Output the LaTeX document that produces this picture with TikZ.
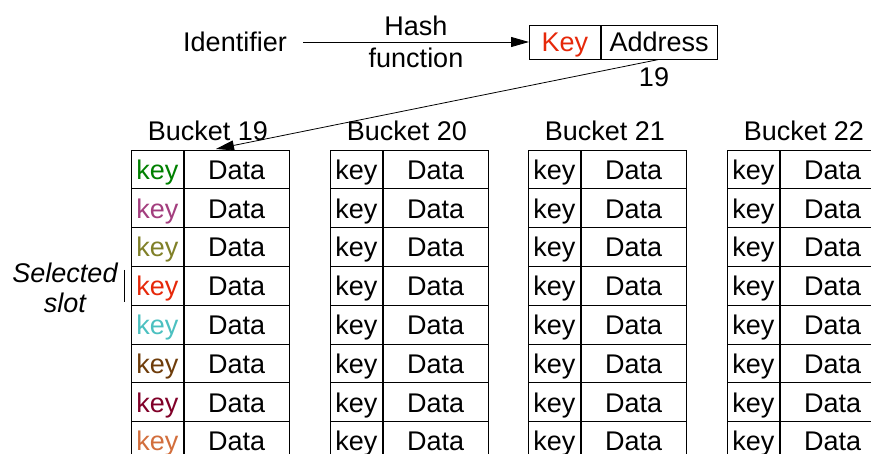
\documentclass[tikz,border=0pt]{standalone}
\usepackage{fontspec}
\setmainfont{Liberation Sans}
\usetikzlibrary{arrows.meta}
\definecolor{keygreen}{RGB}{0,128,0}
\definecolor{keymauve}{RGB}{163,62,126}
\definecolor{keyolive}{RGB}{128,128,40}
\definecolor{keyred}{RGB}{230,40,10}
\definecolor{keycyan}{RGB}{76,192,192}
\definecolor{keybrown}{RGB}{110,60,10}
\definecolor{keymaroon}{RGB}{128,0,40}
\definecolor{keyorange}{RGB}{210,110,60}
\tikzset{
	cell/.style={draw, line width=0.8pt, inner sep=0pt, minimum height=38.8pt, text height=20pt, text depth=0pt, anchor=west},
	keycell/.style={cell, minimum width=52pt},
	datacell/.style={cell, minimum width=105pt},
	hasharrow/.style={-{Triangle[length=18pt,width=10pt]}, line width=0.8pt}
}
% one row of a bucket: #1 bucket, #2 row, #3 left x, #4 colour of the key
\def\slotrow#1#2#3#4{
	\node[keycell, text=#4] (b#1k#2) at (#3, 150+38.8*#2-19.4) {key};
	\node[datacell] (b#1d#2) at (b#1k#2.east) {Data};
}

\begin{document}
\begin{tikzpicture}[x=1pt, y=-1pt, every node/.style={font=\fontsize{27}{31}\selectfont}]
			%%%%% START %%%%%
			\useasboundingbox (0,0) rectangle (871,454);
			\clip (0,0) rectangle (871,454);
			
			\node (ident) at (235,42) {Identifier};
			\node[align=center, font=\fontsize{27}{32}\selectfont] (hashfn) at (416,42) {Hash\\function};
			\node[cell, minimum width=71pt, minimum height=34pt, text=keyred] (hkey) at (529,42) {Key};
			\node[cell, minimum width=116pt, minimum height=34pt] (haddr) at (hkey.east) {Address};
			\node (addrval) at (654,77) {19};
			\draw[hasharrow] ([xshift=13pt]ident.east) -- (hkey.west);
			
			% buckets
			\foreach \b/\x in {19/131,20/330,21/528,22/727}
				\node (title\b) at (\x+77,131) {Bucket \b};
			
			\foreach \r/\c in {1/keygreen,2/keymauve,3/keyolive,4/keyred,5/keycyan,6/keybrown,7/keymaroon,8/keyorange}
				{\slotrow{19}{\r}{131}{\c}}
			\foreach \b/\x in {20/330,21/528,22/727}
				\foreach \r in {1,...,8}
					{\slotrow{\b}{\r}{\x}{black}}
			
			\coordinate (b19in) at (216,149);
			\draw[hasharrow] (haddr.south) -- (b19in);
			
			% selected slot
			\node[align=center, font=\fontsize{27}{30}\selectfont\itshape] (selslot) at (65,288) {Selected\\slot};
			\draw[line width=0.8pt] ([shift={(-7,-16)}]b19k4.west) -- ++(0,32);
			
			%%%%% END %%%%%
\end{tikzpicture}
\end{document}
